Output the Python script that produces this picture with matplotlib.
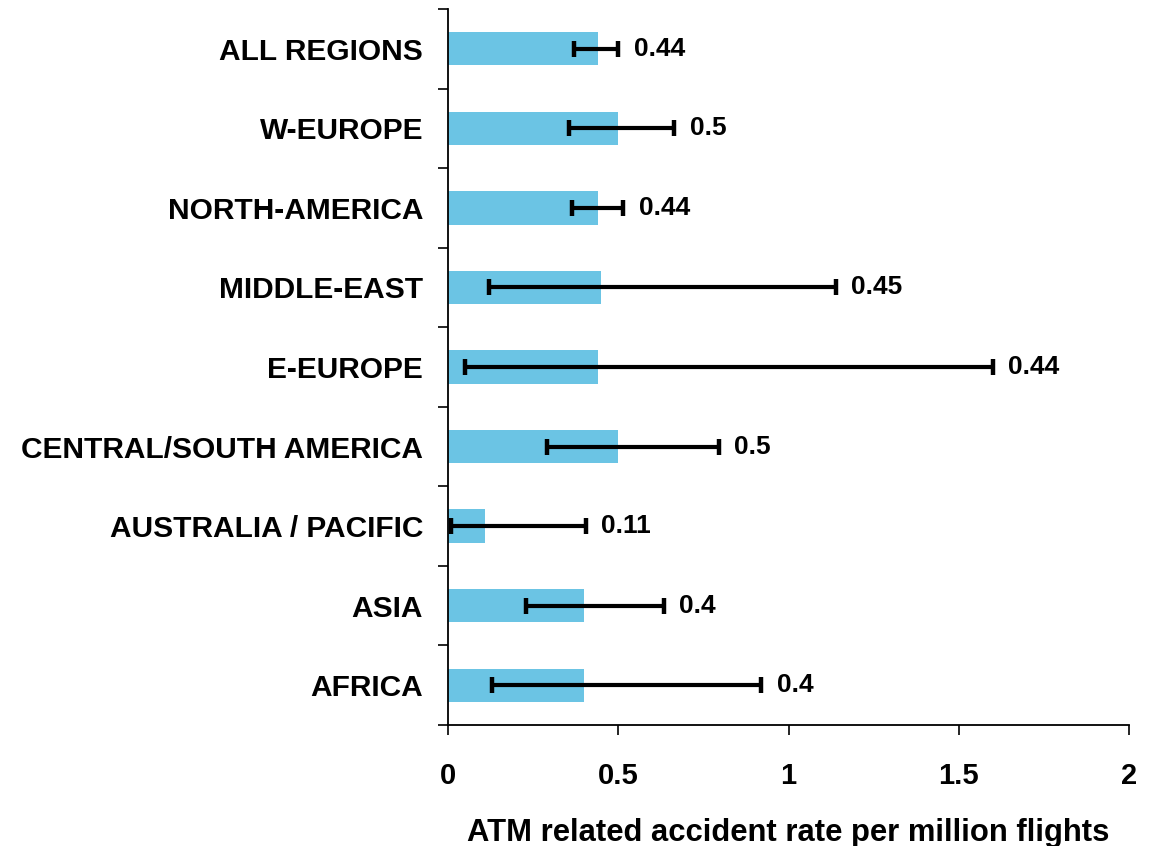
import numpy as np
import matplotlib
matplotlib.use('Agg')
import matplotlib.pyplot as plt

regions = ['ALL REGIONS', 'W-EUROPE', 'NORTH-AMERICA', 'MIDDLE-EAST', 'E-EUROPE',
           'CENTRAL/SOUTH AMERICA', 'AUSTRALIA / PACIFIC', 'ASIA', 'AFRICA']
rate = [0.44, 0.5, 0.44, 0.45, 0.44, 0.5, 0.11, 0.4, 0.4]
err_low = [0.37, 0.355, 0.365, 0.12, 0.05, 0.29, 0.01, 0.23, 0.13]
err_high = [0.50, 0.665, 0.515, 1.14, 1.60, 0.795, 0.405, 0.635, 0.92]
xticks = [0, 0.5, 1, 1.5, 2]
xticklabels = ['0', '0.5', '1', '1.5', '2']

plt.rcParams['font.family'] = ['Liberation Sans', 'DejaVu Sans']
plt.rcParams['font.weight'] = 'bold'

fig = plt.figure(figsize=(11.51, 8.46), dpi=100)
ax = fig.add_axes([448/1151, 1 - 725/846, (1129 - 448)/1151, (725 - 9)/846])

y = np.arange(len(regions))
rate_a = np.array(rate)
xerr = [rate_a - np.array(err_low), np.array(err_high) - rate_a]

ax.barh(y, rate, height=0.42, color='#6BC4E4', zorder=1)
ax.errorbar(rate, y, xerr=xerr, fmt='none', ecolor='black', elinewidth=3,
            capsize=5.5, capthick=3.2, zorder=2)

for yi, v, hi in zip(y, rate, err_high):
    ax.annotate(f'{v:g}', xy=(hi, yi), xytext=(11, 0), textcoords='offset points',
                va='center', ha='left', fontsize=19, fontweight='bold')

ax.set_xlim(0, 2)
ax.set_ylim(len(regions) - 0.5, -0.5)

ax.set_yticks(y)
ax.set_yticklabels(regions, fontsize=21.5, fontweight='bold')
ax.set_yticks(np.arange(len(regions) + 1) - 0.5, minor=True)
ax.tick_params(axis='y', which='major', length=0, pad=18)
ax.tick_params(axis='y', which='minor', length=7.5, width=1.2, direction='out')

ax.set_xticks(xticks)
ax.set_xticklabels(xticklabels, fontsize=21, fontweight='bold')
ax.tick_params(axis='x', length=7.5, width=1.2, direction='out', pad=19)

ax.set_xlabel('ATM related accident rate per million flights', fontsize=22.3,
              fontweight='bold', labelpad=20)

for s in ['top', 'right']:
    ax.spines[s].set_visible(False)
for s in ['left', 'bottom']:
    ax.spines[s].set_linewidth(1.3)

fig.savefig('out.png', dpi=100)
